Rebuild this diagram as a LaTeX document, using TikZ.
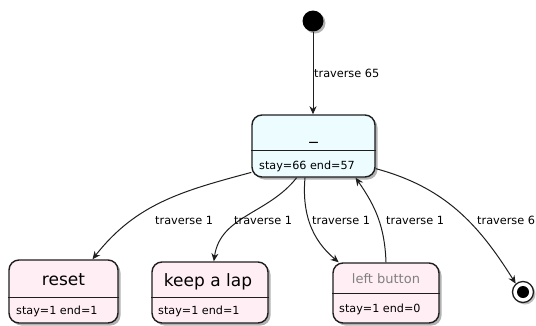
\documentclass[tikz,border=0pt]{standalone}
\usepackage{fontspec}
\setmainfont{DejaVu Sans}
\usetikzlibrary{shadows,arrows.meta}
\definecolor{topfill}{RGB}{236,252,255}
\definecolor{subfill}{RGB}{255,238,243}
\definecolor{edgecol}{RGB}{30,30,30}
\begin{document}
\begin{tikzpicture}[x=1pt,y=-1pt,
  statebox/.style={draw=edgecol, line width=1.4pt, rounded corners=10pt, inner sep=0pt,
    drop shadow={shadow xshift=2.5pt,shadow yshift=-2.5pt,fill=black,opacity=0.3}},
  divider/.style={draw=edgecol, line width=1pt},
  titletext/.style={anchor=base, inner sep=0pt, font=\fontsize{17}{19}\selectfont},
  stattext/.style={anchor=base west, inner sep=0pt, font=\fontsize{11.2}{13}\selectfont},
  lbl/.style={anchor=base west, inner sep=0pt, font=\fontsize{11.3}{13}\selectfont},
  conn/.style={draw=edgecol, line width=1pt, -{Stealth[length=8pt,width=7pt,inset=2.5pt]}}
]
\useasboundingbox (0,0) rectangle (536,325);

% initial and final pseudo states
\node[circle, fill=black, minimum size=21pt, inner sep=0pt,
  drop shadow={shadow xshift=2pt,shadow yshift=-2pt,fill=black,opacity=0.3}] (init) at (313,21) {};
\node[circle, draw=edgecol, line width=1.3pt, fill=white, minimum size=21pt, inner sep=0pt,
  drop shadow={shadow xshift=2pt,shadow yshift=-2pt,fill=black,opacity=0.25}] (final) at (523,292) {};
\node[circle, fill=black, minimum size=12pt, inner sep=0pt] (finaldot) at (final) {};

% top state
\node[statebox, fill=topfill, minimum width=123pt, minimum height=62pt] (top) at (313.5,146) {};
\draw[divider] (top.west |- 0,150) -- (top.east |- 0,150);
\node[titletext] (toptitle) at (313.5,139) {\_};
\node[stattext] (topstat) at (259,169) {stay=66 end=57};

% reset
\node[statebox, fill=subfill, minimum width=109pt, minimum height=63pt] (reset) at (63.5,291.5) {};
\draw[divider] (reset.west |- 0,297) -- (reset.east |- 0,297);
\node[titletext] (resettitle) at (63.5,285) {reset};
\node[stattext] (resetstat) at (16,314) {stay=1 end=1};

% keep a lap
\node[statebox, fill=subfill, minimum width=116pt, minimum height=61pt] (kal) at (210,292.5) {};
\draw[divider] (kal.west |- 0,297) -- (kal.east |- 0,297);
\node[titletext] (kaltitle) at (208,286) {keep a lap};
\node[stattext] (kalstat) at (158,314) {stay=1 end=1};

% left button
\node[statebox, fill=subfill, minimum width=106pt, minimum height=60pt] (lb) at (386,293) {};
\draw[divider] (lb.west |- 0,293) -- (lb.east |- 0,293);
\node[titletext, font=\fontsize{13}{15}\selectfont, text=black!50] (lbtitle) at (386,283) {left button};
\node[stattext] (lbstat) at (339,312) {stay=1 end=0};

% connectors
\draw[conn] (init.south) -- (top.north -| init);
\node[lbl] (l65) at (314,77) {traverse 65};

\draw[conn] (top.203) to[out=195, in=52] (reset.48);
\node[lbl] (l1a) at (155,224) {traverse 1};

\draw[conn] (top.242) to[out=232, in=82] (kal.83);
\node[lbl] (l1b) at (234,224) {traverse 1};

\draw[conn] (top.255) to[out=265, in=140] (lb.147);
\node[lbl] (l1c) at (312,224) {traverse 1};

\draw[conn] (lb.north) to[out=92, in=-55] (top.-37);
\node[lbl] (l1d) at (386,224) {traverse 1};

\draw[conn] (top.-20) to[out=-15, in=122] (final.131);
\node[lbl] (l6) at (477,224) {traverse 6};
\end{tikzpicture}
\end{document}
